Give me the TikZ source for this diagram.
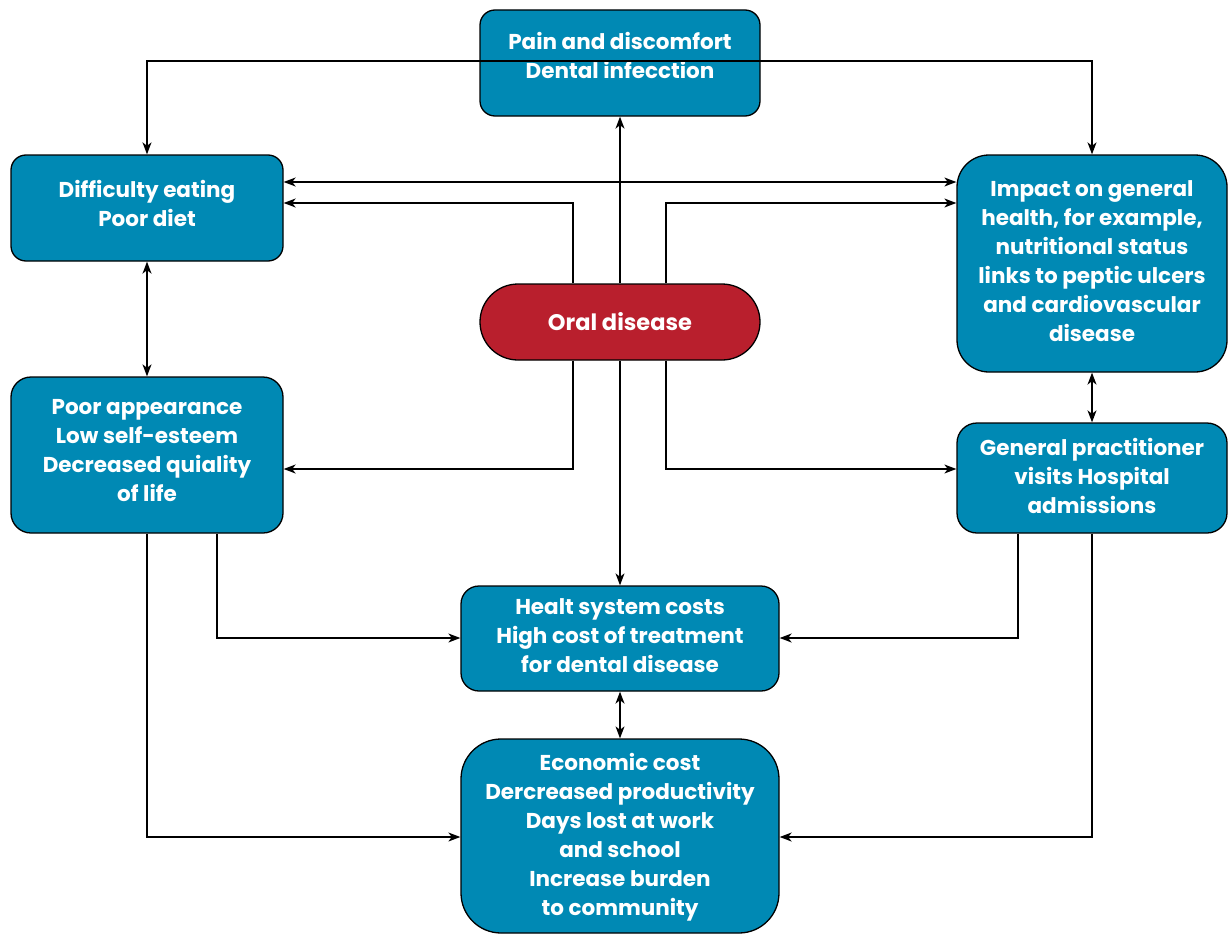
\documentclass[tikz,border=0pt]{standalone}
\usepackage{fontspec}
\setmainfont{Poppins}
\usetikzlibrary{arrows.meta}
\definecolor{boxblue}{RGB}{0,137,180}
\definecolor{boxred}{RGB}{185,31,45}
\begin{document}
\begin{tikzpicture}[x=1pt,y=-1pt,
  box/.style={draw=black,line width=1.3pt,fill=boxblue,inner sep=0pt},
  txt/.style={text=white,align=center,font=\fontsize{21.5}{29}\selectfont\bfseries,inner sep=0pt},
  arr/.style={line width=1.3pt,-{Stealth[length=12pt,width=9pt,inset=3.5pt]}},
  arrb/.style={line width=1.3pt,{Stealth[length=12pt,width=9pt,inset=3.5pt]}-{Stealth[length=12pt,width=9pt,inset=3.5pt]}}]
\useasboundingbox (0,0) rectangle (1228,934);
% boxes
\node[box,rounded corners=15pt,minimum width=280pt,minimum height=106pt] (pain) at (620,63) {};
\node[box,rounded corners=15pt,minimum width=272pt,minimum height=106pt] (diff) at (147,208) {};
\node[box,rounded corners=32pt,minimum width=270pt,minimum height=217pt] (impact) at (1092,263.5) {};
\node[box,fill=boxred,rounded corners=38pt,minimum width=280pt,minimum height=76pt] (oral) at (620,322) {};
\node[box,rounded corners=20pt,minimum width=272pt,minimum height=156pt] (poor) at (147,455) {};
\node[box,rounded corners=20pt,minimum width=270pt,minimum height=110pt] (gp) at (1092,478) {};
\node[box,rounded corners=18pt,minimum width=318pt,minimum height=105pt] (health) at (620,638.5) {};
\node[box,rounded corners=40pt,minimum width=318pt,minimum height=194pt] (econ) at (620,836) {};
% texts
\node[txt] (painT) at (620,55) {Pain and discomfort\\Dental infecction};
\node[txt] (diffT) at (147,203) {Difficulty eating\\Poor diet};
\node[txt] (impactT) at (1092,261) {Impact on general\\health, for example,\\nutritional status\\links to peptic ulcers\\and cardiovascular\\disease};
\node[txt,font=\fontsize{22.5}{29}\selectfont\bfseries] (oralT) at (620,322) {Oral disease};
\node[txt] (poorT) at (147,451) {Poor appearance\\Low self-esteem\\Decreased quiality\\of life};
\node[txt] (gpT) at (1092,476) {General practitioner\\visits Hospital\\admissions};
\node[txt] (healthT) at (620,636) {Healt system costs\\High cost of treatment\\for dental disease};
\node[txt] (econT) at (620,837) {Economic cost\\Dercreased productivity\\Days lost at work\\and school\\Increase burden\\to community};
% helper coordinates
\coordinate (topy) at (620,61);
\coordinate (h1) at (0,182);
\coordinate (h2) at (0,203);
\coordinate (h3) at (0,469);
\coordinate (h4) at (0,638);
\coordinate (h5) at (0,837);
\coordinate (vL) at (573,0);
\coordinate (vR) at (666,0);
\coordinate (pL2) at (217,0);
\coordinate (gR2) at (1018,0);
% connectors
\draw[arrb] (diff.north) |- (topy) -| (impact.north);
\draw[arr] (oral.north) -- (pain.south);
\draw[arr] (oral.south) -- (health.north);
\draw[arrb] (diff.east |- h1) -- (impact.west |- h1);
\draw[arr] (oral.north -| vL) |- (diff.east |- h2);
\draw[arr] (oral.north -| vR) |- (impact.west |- h2);
\draw[arr] (oral.south -| vL) |- (poor.east |- h3);
\draw[arr] (oral.south -| vR) |- (gp.west |- h3);
\draw[arrb] (diff.south) -- (poor.north);
\draw[arrb] (impact.south) -- (gp.north);
\draw[arr] (poor.south -| pL2) |- (health.west |- h4);
\draw[arr] (poor.south) |- (econ.west |- h5);
\draw[arr] (gp.south -| gR2) |- (health.east |- h4);
\draw[arr] (gp.south) |- (econ.east |- h5);
\draw[arrb] (health.south) -- (econ.north);
\end{tikzpicture}
\end{document}
